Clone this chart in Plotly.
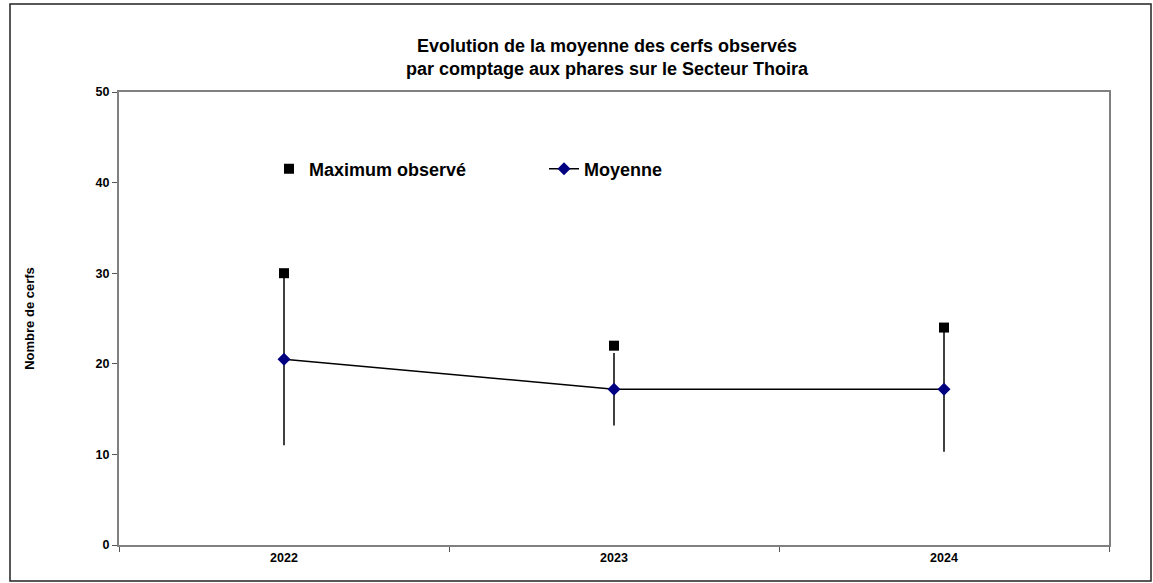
import plotly.graph_objects as go

years = ["2022", "2023", "2024"]
moyenne = [20.5, 17.2, 17.2]
ecart = [9.5, 4.0, 6.9]
maximum = [30, 22, 24]
y_ticks = [0, 10, 20, 30, 40, 50]

FONT = "Liberation Sans, Arial, sans-serif"

fig = go.Figure()
fig.add_trace(go.Scatter(
    x=years, y=moyenne, name="Moyenne", mode="lines+markers",
    line=dict(color="black", width=1.5),
    marker=dict(symbol="diamond", size=10, color="#000080"),
    error_y=dict(type="data", array=ecart, visible=True, color="black", thickness=1.5, width=0),
))
fig.add_trace(go.Scatter(
    x=years, y=maximum, name="Maximum observé", mode="markers",
    marker=dict(symbol="square", size=10, color="black"),
))

L, R, T, B = 119, 44, 92, 38
W, H = 1153, 583
pw, ph = W - L - R, H - T - B

fig.update_layout(
    width=W, height=H,
    margin=dict(l=L, r=R, t=T, b=B),
    paper_bgcolor="white", plot_bgcolor="white",
    font=dict(family=FONT, color="black"),
    title=dict(
        text="Evolution de la moyenne des cerfs observés<br>par comptage aux phares sur le Secteur Thoira",
        x=(607) / W, xanchor="center", y=1 - 52 / H, yanchor="middle",
        font=dict(size=18, family=FONT, weight="bold", color="black"),
    ),
    showlegend=True,
    legend=dict(
        orientation="h", traceorder="reversed",
        x=(269 - L) / pw, xanchor="left",
        y=(H - B - 169) / ph, yanchor="middle",
        font=dict(size=18, family=FONT, weight="bold", color="black"),
        entrywidth=230, entrywidthmode="pixels",
        bgcolor="rgba(0,0,0,0)",
    ),
    xaxis=dict(
        type="category", range=[-0.5, 2.5],
        tickson="boundaries", ticks="outside", ticklen=5, tickcolor="#555",
        showline=True, linecolor="#808080", linewidth=2, mirror=True,
        showgrid=False, zeroline=False,
        tickfont=dict(size=12.5, family=FONT, weight="bold"),
    ),
    yaxis=dict(
        range=[0, 50], tickvals=y_ticks,
        ticks="outside", ticklen=5, tickcolor="#555",
        showline=True, linecolor="#808080", linewidth=2, mirror=True,
        showgrid=False, zeroline=False,
        tickfont=dict(size=12.5, family=FONT, weight="bold"),
        title=dict(text="Nombre de cerfs", standoff=58,
                   font=dict(size=13, family=FONT, weight="bold")),
    ),
    shapes=[dict(
        type="rect", xref="paper", yref="paper",
        x0=(10 - L) / pw, x1=(1151 - L) / pw,
        y0=(H - B - 581) / ph, y1=(H - B - 4) / ph,
        line=dict(color="#222", width=1.5), fillcolor="rgba(0,0,0,0)", layer="below",
    )],
)

fig.write_html("out.html", config={"displayModeBar": False},
               post_script="document.body.style.margin='0';")
